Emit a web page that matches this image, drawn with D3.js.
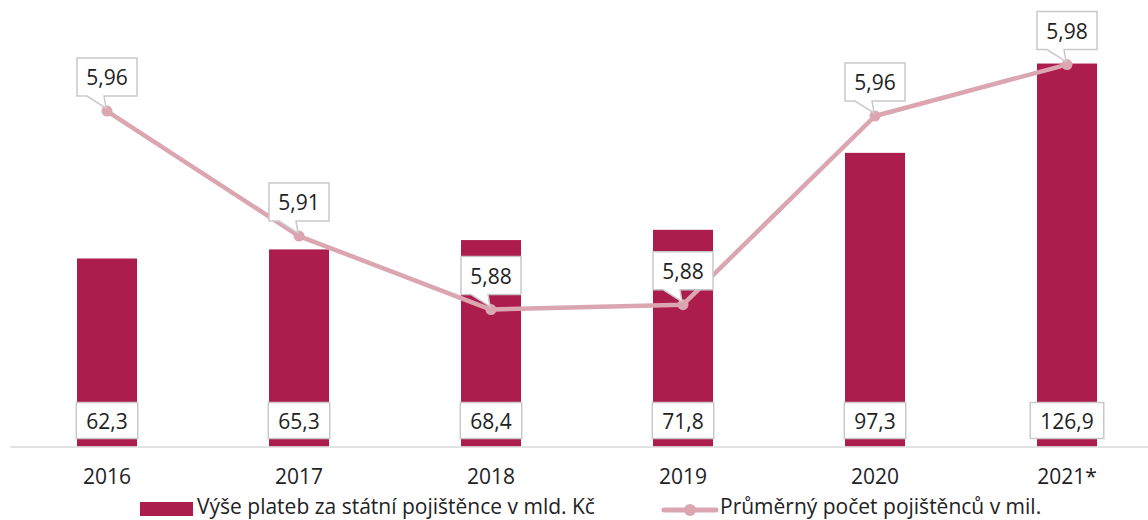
<!DOCTYPE html>
<html>
<head>
<meta charset="utf-8">
<script src="https://cdn.jsdelivr.net/npm/d3@7"></script>
<style>
  html, body { margin: 0; padding: 0; background: #fff; }
  svg { display: block; font-family: "Open Sans", "Noto Sans", sans-serif; }
</style>
</head>
<body>
<svg id="chart" width="1148" height="520"></svg>
<script>
// Categories (years) and series
const years = ["2016", "2017", "2018", "2019", "2020", "2021*"];
const payments = [62.3, 65.3, 68.4, 71.8, 97.3, 126.9];      // mld. Kč
const insured = [5.962, 5.911, 5.881, 5.883, 5.960, 5.981];  // mil. osob
const legendLabels = ["Výše plateb za státní pojištěnce v mld. Kč", "Průměrný počet pojištěnců v mil."];

const barColor = "#ac1c4c";
const lineColor = "#dba6b1";
const boxStroke = "#c9c9c9";
const textColor = "#222";
const fontSize = 21;

const svg = d3.select("#chart");
const fmt1 = d => d3.format(".1f")(d).replace(".", ",");
const fmt2 = d => d3.format(".2f")(d).replace(".", ",");

const x = d3.scaleBand().domain(years).range([11, 1163]).paddingInner(0.6875).paddingOuter(0.34375);
const yBar = d3.scaleLinear().domain([0, 140]).range([446.5, 24]);
const yLine = d3.scaleLinear().domain([5.80, 6.00]).range([508, 18]);

const data = years.map((y, i) => ({ year: y, pay: payments[i], ins: insured[i] }));

// Bars
svg.append("g").selectAll("rect").data(data).join("rect")
  .attr("x", d => x(d.year))
  .attr("y", d => yBar(d.pay))
  .attr("width", x.bandwidth())
  .attr("height", d => yBar(0) - yBar(d.pay))
  .attr("fill", barColor);

// Baseline
svg.append("line")
  .attr("x1", 10).attr("x2", 1148)
  .attr("y1", yBar(0) + 0.5).attr("y2", yBar(0) + 0.5)
  .attr("stroke", "#d9d9d9").attr("stroke-width", 1.5);

// Year axis labels
const xAxis = svg.append("g")
  .attr("transform", `translate(0, ${yBar(0)})`)
  .call(d3.axisBottom(x).tickSize(0).tickPadding(0));
xAxis.select(".domain").remove();
xAxis.selectAll("text")
  .attr("dy", null)
  .attr("y", 37.5)
  .attr("font-size", fontSize)
  .attr("font-family", "'Open Sans', sans-serif")
  .attr("fill", textColor);

// Bar value labels in boxes near the base
const barLabels = svg.append("g").selectAll("g").data(data).join("g");
barLabels.each(function (d) {
  const g = d3.select(this);
  const cx = x(d.year) + x.bandwidth() / 2;
  const cy = yBar(0) - 26;
  const t = g.append("text")
    .attr("x", cx).attr("y", cy)
    .attr("text-anchor", "middle")
    .attr("dominant-baseline", "central")
    .attr("font-size", fontSize)
    .attr("fill", textColor)
    .text(fmt1(d.pay));
  const w = Math.max(x.bandwidth(), t.node().getComputedTextLength() + 20);
  g.insert("rect", "text")
    .attr("x", cx - w / 2).attr("y", cy - 18)
    .attr("width", w).attr("height", 36)
    .attr("fill", "#fff")
    .attr("stroke", boxStroke).attr("stroke-width", 1.5);
});

// Line series
const line = d3.line()
  .x(d => x(d.year) + x.bandwidth() / 2)
  .y(d => yLine(d.ins));
svg.append("path").datum(data)
  .attr("d", line)
  .attr("fill", "none")
  .attr("stroke", lineColor)
  .attr("stroke-width", 4.5)
  .attr("stroke-linejoin", "round");
svg.append("g").selectAll("circle").data(data).join("circle")
  .attr("cx", d => x(d.year) + x.bandwidth() / 2)
  .attr("cy", d => yLine(d.ins))
  .attr("r", 5.5)
  .attr("fill", lineColor);

// Callout labels for the line values
const callouts = svg.append("g").selectAll("g").data(data).join("g");
callouts.each(function (d) {
  const g = d3.select(this);
  const px = x(d.year) + x.bandwidth() / 2;
  const py = yLine(d.ins);
  const h = 38, w = 60;
  const bottom = py - 15, top = bottom - h;
  const left = px - w / 2, right = px + w / 2;
  const p = d3.path();
  p.moveTo(left, top);
  p.lineTo(right, top);
  p.lineTo(right, bottom);
  p.lineTo(px - 3, bottom);
  p.lineTo(px - 1, py - 3);
  p.lineTo(px - 20, bottom);
  p.lineTo(left, bottom);
  p.closePath();
  g.append("path")
    .attr("d", p.toString())
    .attr("fill", "#fff")
    .attr("stroke", boxStroke)
    .attr("stroke-width", 1.5)
    .attr("stroke-linejoin", "miter");
  g.append("text")
    .attr("x", px).attr("y", top + h / 2)
    .attr("text-anchor", "middle")
    .attr("dominant-baseline", "central")
    .attr("font-size", fontSize)
    .attr("fill", textColor)
    .text(fmt2(d.ins));
});

// Legend
const legend = svg.append("g");
legend.append("rect")
  .attr("x", 140).attr("y", 502).attr("width", 53).attr("height", 14)
  .attr("fill", barColor);
legend.append("text")
  .attr("x", 197).attr("y", 514)
  .attr("font-size", fontSize).attr("fill", textColor)
  .text(legendLabels[0]);
legend.append("line")
  .attr("x1", 664).attr("x2", 716).attr("y1", 510).attr("y2", 510)
  .attr("stroke", lineColor).attr("stroke-width", 5).attr("stroke-linecap", "round");
legend.append("circle")
  .attr("cx", 690).attr("cy", 510).attr("r", 6).attr("fill", lineColor);
legend.append("text")
  .attr("x", 720).attr("y", 514)
  .attr("font-size", fontSize).attr("fill", textColor)
  .text(legendLabels[1]);
</script>
</body>
</html>
